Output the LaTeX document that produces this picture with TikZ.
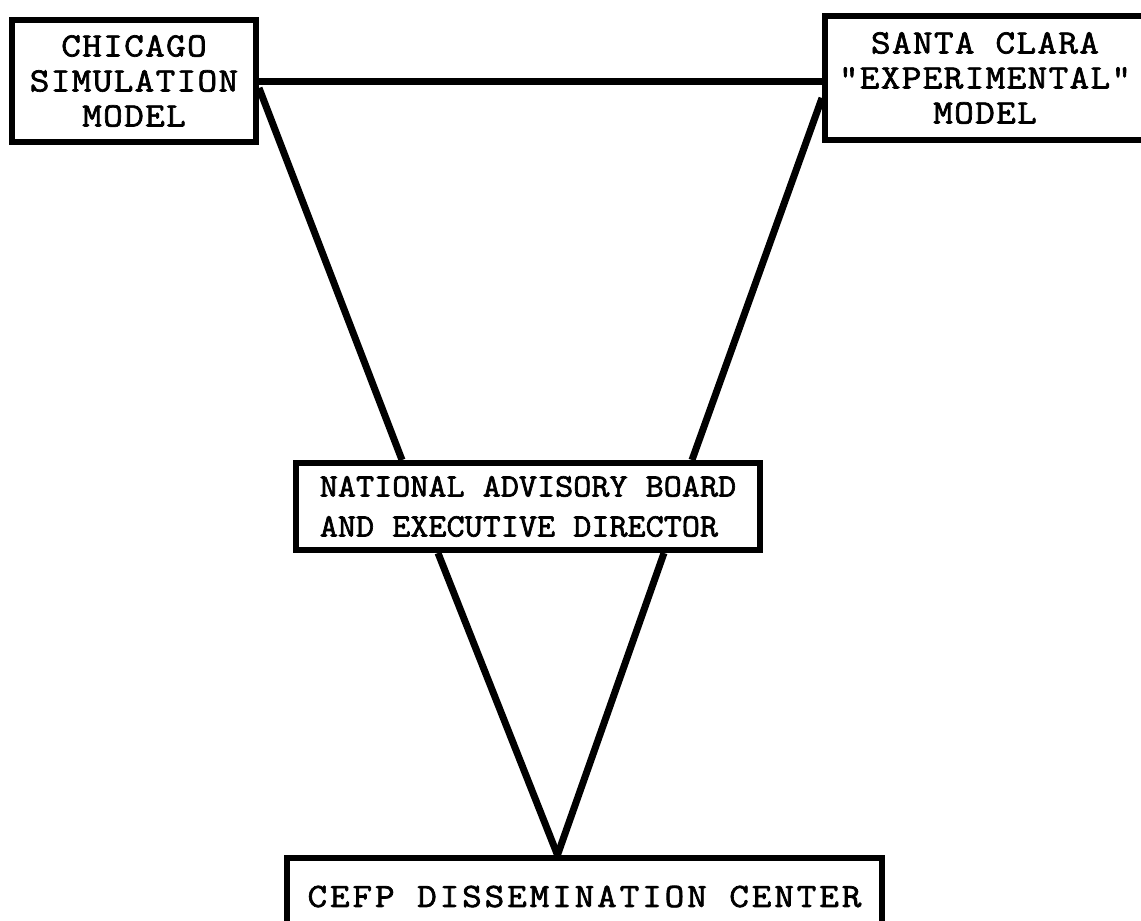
\documentclass[tikz,border=0pt]{standalone}
\usepackage{fontspec}
\newfontfamily\twwide{Latin Modern Mono}[FakeStretch=1.12,LetterSpace=4,FakeBold=2]
\newfontfamily\twnarrow{Latin Modern Mono}[FakeStretch=1.075,FakeBold=2]
\newfontfamily\twcefp{Latin Modern Mono}[FakeStretch=1.12,LetterSpace=8.5,FakeBold=2]
\begin{document}
\begin{tikzpicture}[x=1pt,y=-1pt,
  box/.style={draw,line width=6pt,inner sep=0pt,align=center},
  conn/.style={line width=7pt}]
\useasboundingbox (0,0) rectangle (1141,921);
\node[box,minimum width=244pt,minimum height=122pt,
  font=\twwide\fontsize{34}{35}\selectfont] (chi) at (134,81)
  {CHICAGO\\SIMULATION\\MODEL};
\node[box,minimum width=320pt,minimum height=124pt,
  font=\twwide\fontsize{34}{35}\selectfont] (sc) at (985,78)
  {SANTA CLARA\\"EXPERIMENTAL"\\MODEL};
\node[box,align=left,minimum width=464pt,minimum height=87pt,
  font=\twnarrow\fontsize{32.7}{40}\selectfont] (nat) at (528,506.5)
  {NATIONAL ADVISORY BOARD\\AND EXECUTIVE DIRECTOR};
\node[box,minimum width=595pt,minimum height=77pt,
  font=\twcefp\fontsize{34}{34}\selectfont] (cefp) at (584.5,896.5)
  {CEFP DISSEMINATION CENTER};
\draw[conn] (chi.east) -- (sc.west |- chi.east);
\draw[conn] ([yshift=-7pt]chi.east) -- ([xshift=-126pt]nat.north);
\draw[conn] ([yshift=-20pt]sc.west) -- ([xshift=164pt]nat.north);
\draw[conn] ([xshift=-90pt]nat.south) -- ([xshift=-27pt]cefp.north);
\draw[conn] ([xshift=136pt]nat.south) -- ([xshift=-27pt]cefp.north);
\end{tikzpicture}
\end{document}
